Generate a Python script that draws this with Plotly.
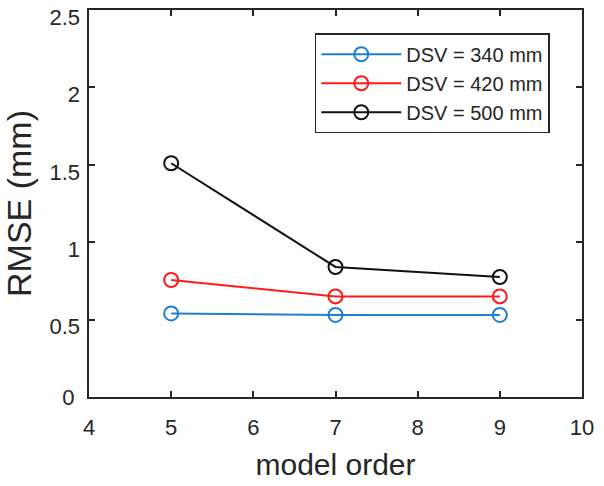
import plotly.graph_objects as go

model_order = [5, 7, 9]
rmse_340 = [0.54, 0.53, 0.53]
rmse_420 = [0.756, 0.65, 0.65]
rmse_500 = [1.51, 0.84, 0.775]
series_names = ["DSV = 340 mm", "DSV = 420 mm", "DSV = 500 mm"]
colors = ["#1f7fd0", "#ff1a1a", "#111111"]
x_ticks = [4, 5, 6, 7, 8, 9, 10]
y_ticks = [0, 0.5, 1, 1.5, 2, 2.5]
y_ticktext = ["0", "0.5", "1", "1.5", "2", "2.5"]

FONT = "Liberation Sans, Arial"
Y_RANGE = [0, 2.5]
# tick labels in the reference sit ~7px below their ticks
label_shift = 7 * (Y_RANGE[1] - Y_RANGE[0]) / 387

fig = go.Figure()
for name, vals, c in zip(series_names, [rmse_340, rmse_420, rmse_500], colors):
    fig.add_trace(go.Scatter(
        x=model_order, y=vals, name=name, mode="lines+markers",
        line=dict(color=c, width=2),
        marker=dict(symbol="circle-open", size=14, color=c, line=dict(width=2, color=c)),
    ))
# empty trace that only makes the (shifted) label axis render
fig.add_trace(go.Scatter(x=[], y=[], yaxis="y2", showlegend=False, hoverinfo="skip"))

tickfont = dict(family=FONT, size=22, color="#262626")
axis_common = dict(
    showgrid=False, zeroline=False, showline=True, linecolor="#262626", linewidth=2,
    mirror="ticks", ticks="inside", ticklen=6, tickwidth=1.5, tickcolor="#262626",
    tickfont=tickfont, automargin=False, ticklabeloverflow="allow",
)
fig.update_xaxes(range=[4, 10], tickvals=x_ticks,
                 title=dict(text="model order", font=dict(family=FONT, size=30, color="#262626")),
                 ticklabelstandoff=10, **axis_common)
# main y axis: ticks, frame and the "0" label
fig.update_yaxes(range=Y_RANGE, tickvals=y_ticks,
                 ticktext=[y_ticktext[0]] + [""] * (len(y_ticks) - 1),
                 ticklabelstandoff=8, **axis_common)

fig.update_layout(
    width=604, height=486,
    margin=dict(l=89, r=22, t=10, b=89),
    plot_bgcolor="white", paper_bgcolor="white",
    yaxis2=dict(overlaying="y", side="left", anchor="x",
                range=[Y_RANGE[0] + label_shift, Y_RANGE[1] + label_shift],
                tickvals=y_ticks[1:], ticktext=y_ticktext[1:], ticks="", showline=False,
                showgrid=False, zeroline=False, tickfont=tickfont, automargin=False,
                ticklabeloverflow="allow", ticklabelstandoff=8, fixedrange=True,
                title=dict(text="RMSE (mm)", font=dict(family=FONT, size=34, color="#262626"))),
    legend=dict(x=0.458, y=0.94, xanchor="left", yanchor="top",
                bordercolor="#262626", borderwidth=1.5, bgcolor="white",
                font=dict(family=FONT, size=20, color="#262626"),
                tracegroupgap=0, itemwidth=80),
    showlegend=True,
)

fig.write_html("out.html", config={"displayModeBar": False},
               post_script="document.body.style.margin='0';document.body.style.padding='0';")
